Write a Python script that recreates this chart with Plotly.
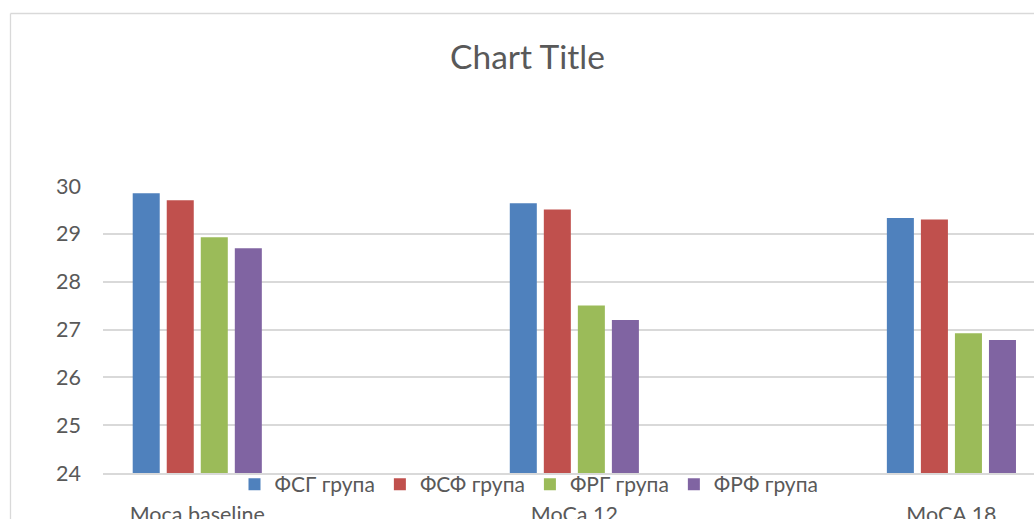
import plotly.graph_objects as go

categories = ["Moca baseline", "MoCa 12", "MoCA 18"]
series_names = ["ФСГ група", "ФСФ група", "ФРГ група", "ФРФ група"]
fsg = [29.85, 29.64, 29.33]
fsf = [29.70, 29.51, 29.30]
frg = [28.93, 27.50, 26.92]
frf = [28.70, 27.20, 26.78]
colors = ["#4F81BD", "#C0504D", "#9BBB59", "#8064A2"]
y_ticks = [24, 25, 26, 27, 28, 29, 30]

FONT = "Lato, Carlito, Calibri, 'Liberation Sans', sans-serif"
TXT = "#595959"
GRID = "#D9D9D9"

fig = go.Figure()
for name, vals, col in zip(series_names, [fsg, fsf, frg, frf], colors):
    fig.add_trace(go.Bar(x=categories, y=vals, name=name,
                         marker=dict(color=col, line=dict(width=0))))

W, H = 1034, 519
L = 103
T = 186
B = H - 473
R = 0
pw = W - L - R
ph = H - T - B

def px(x):
    return (x - L) / pw

def py(y):
    return (H - B - y) / ph

fig.update_layout(
    width=W, height=H,
    margin=dict(l=L, r=R, t=T, b=B, pad=0, autoexpand=False),
    paper_bgcolor="white", plot_bgcolor="white",
    font=dict(family=FONT, color=TXT, size=21.5),
    barmode="group", bargap=0.639, bargroupgap=0.206,
    title=dict(text="Chart Title", xref="container", yref="container",
               x=527.5 / W, xanchor="center",
               y=1 - 57 / H, yanchor="middle",
               font=dict(family=FONT, size=33.5, color=TXT)),
    legend=dict(orientation="h", x=px(529), xanchor="center",
                y=py(484.5), yanchor="middle",
                font=dict(family=FONT, size=21, color=TXT),
                bgcolor="rgba(0,0,0,0)", itemwidth=30, tracegroupgap=0),
    showlegend=True,
    hovermode=False,
)
fig.update_xaxes(type="category", range=[-0.25, 2.219], showgrid=False,
                 showline=True, linecolor=GRID, linewidth=1.5,
                 ticks="", ticklabelstandoff=21, automargin=False,
                 tickfont=dict(family=FONT, size=21.5, color=TXT))
fig.update_yaxes(range=[24, 30], tickvals=y_ticks, showgrid=True,
                 gridcolor=GRID, gridwidth=1.5, zeroline=False,
                 showline=False, ticks="", ticklabelstandoff=21,
                 automargin=False,
                 tickfont=dict(family=FONT, size=21.5, color=TXT))

# chart-area border (left and top edges visible)
fig.add_shape(type="line", xref="paper", yref="paper",
              x0=px(10.5), x1=px(1045), y0=py(13.5), y1=py(13.5),
              line=dict(color=GRID, width=1.3))
fig.add_shape(type="line", xref="paper", yref="paper",
              x0=px(10.5), x1=px(10.5), y0=py(13.5), y1=py(530),
              line=dict(color=GRID, width=1.3))

fig.write_html(
    "out.html",
    config={"displayModeBar": False},
    post_script="document.body.style.margin='0';"
                "document.body.style.overflow='hidden';",
)
